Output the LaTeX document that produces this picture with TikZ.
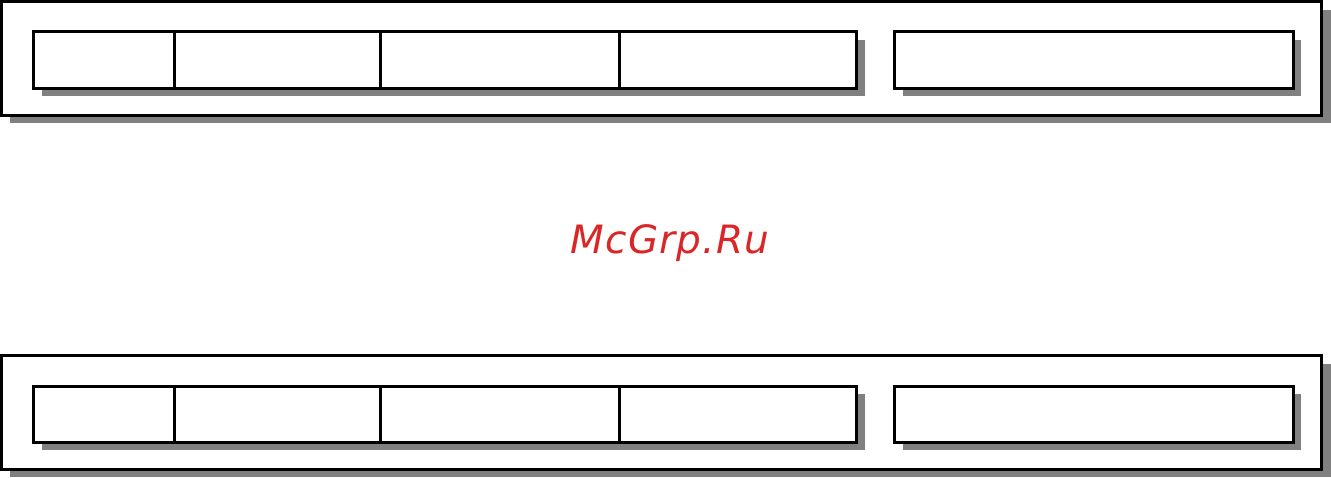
\documentclass[tikz,border=0pt]{standalone}
\usepackage{fontspec}
\newfontfamily\wmfont{DejaVu Sans}
\definecolor{wmred}{RGB}{218,38,38}
\definecolor{shade}{RGB}{128,128,128}
\begin{document}
\begin{tikzpicture}[x=1pt,y=-1pt,
  frame/.style={draw=black,line width=3pt,fill=white},
  shadowbox/.style={fill=shade,draw=none},
  cell/.style={draw=black,line width=3pt}]
\useasboundingbox (0,0) rectangle (1331,477);
% ---------- top panel ----------
\fill[shadowbox] (9.5,9.5) rectangle (1331,123);
\filldraw[frame] (1.5,1.5) rectangle (1321.5,115);
\fill[shadowbox] (41.5,39.5) rectangle (864.5,96);
\fill[shadowbox] (902.5,39.5) rectangle (1301,96);
\filldraw[frame] (33.5,31.5) rectangle (856.5,88);
\filldraw[frame] (894.5,31.5) rectangle (1293,88);
\coordinate (t1a) at (174.5,31.5); \coordinate (t1b) at (174.5,88);
\coordinate (t2a) at (380.5,31.5); \coordinate (t2b) at (380.5,88);
\coordinate (t3a) at (619.5,31.5); \coordinate (t3b) at (619.5,88);
\draw[cell] (t1a) -- (t1b) (t2a) -- (t2b) (t3a) -- (t3b);
% ---------- bottom panel ----------
\fill[shadowbox] (9.5,363.5) rectangle (1331,477);
\filldraw[frame] (1.5,355.5) rectangle (1321.5,469);
\fill[shadowbox] (41.5,394) rectangle (864.5,450);
\fill[shadowbox] (902.5,394) rectangle (1301,450);
\filldraw[frame] (33.5,386) rectangle (856.5,442);
\filldraw[frame] (894.5,386) rectangle (1293,442);
\coordinate (b1a) at (174.5,386); \coordinate (b1b) at (174.5,442);
\coordinate (b2a) at (380.5,386); \coordinate (b2b) at (380.5,442);
\coordinate (b3a) at (619.5,386); \coordinate (b3b) at (619.5,442);
\draw[cell] (b1a) -- (b1b) (b2a) -- (b2b) (b3a) -- (b3b);
% ---------- watermark ----------
\node[text=wmred,font={\wmfont\itshape\fontsize{39}{46}\selectfont\addfontfeatures{LetterSpace=3}},inner sep=0pt,anchor=base] (wm) at (670,253) {McGrp.Ru};
\end{tikzpicture}
\end{document}
